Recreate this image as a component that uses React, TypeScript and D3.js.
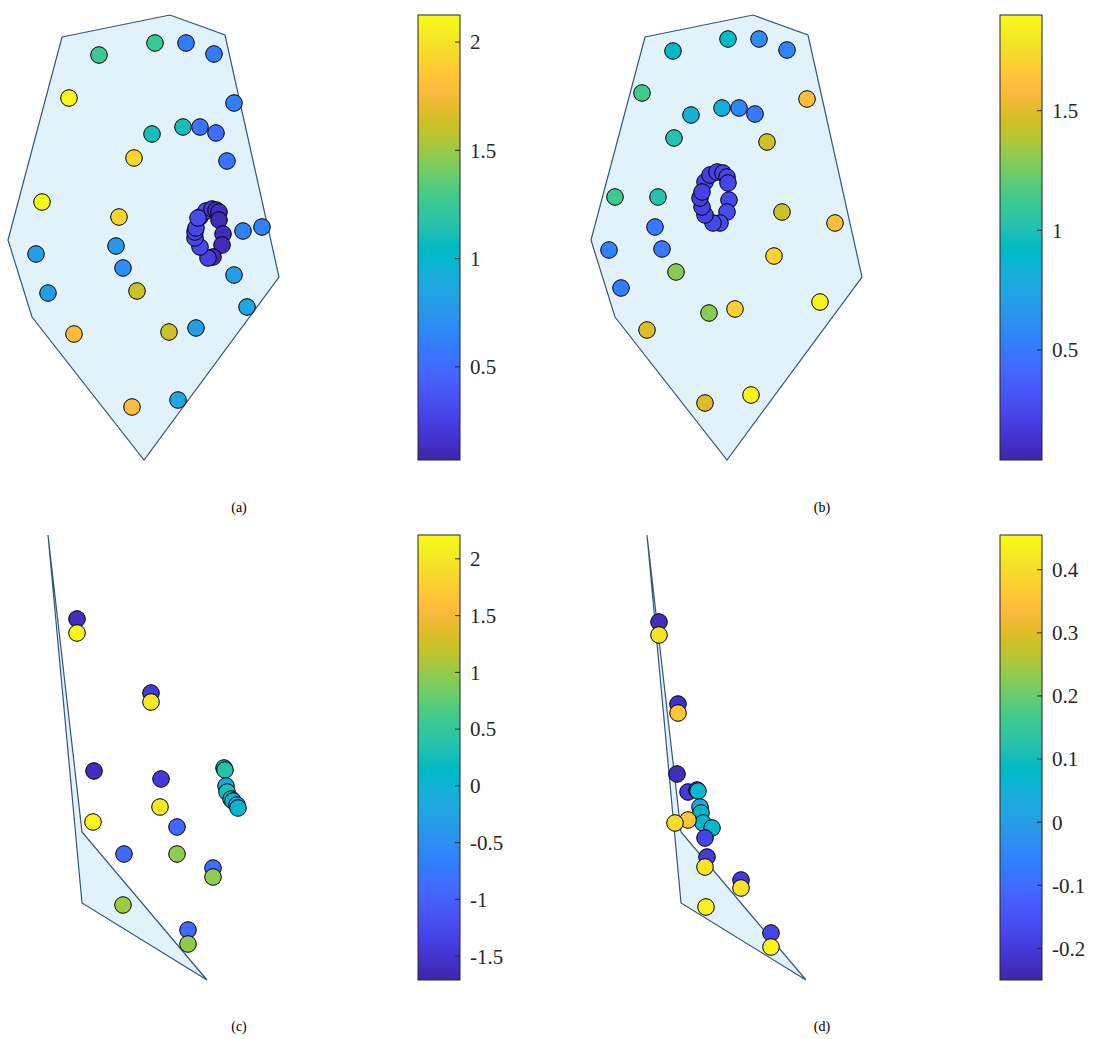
import React from "react";
import * as d3 from "d3";

// ---------- colormap (MATLAB parula, 64 entries) ----------
const PARULA: number[][] = [
  [0.2422,0.1504,0.6603],[0.2504,0.1650,0.7076],[0.2578,0.1818,0.7511],[0.2647,0.1978,0.7952],
  [0.2706,0.2147,0.8364],[0.2751,0.2342,0.8710],[0.2783,0.2559,0.8991],[0.2803,0.2782,0.9221],
  [0.2813,0.3006,0.9414],[0.2810,0.3228,0.9579],[0.2795,0.3447,0.9717],[0.2760,0.3667,0.9829],
  [0.2699,0.3892,0.9906],[0.2602,0.4123,0.9952],[0.2440,0.4358,0.9988],[0.2206,0.4603,0.9973],
  [0.1963,0.4847,0.9892],[0.1834,0.5074,0.9798],[0.1786,0.5289,0.9682],[0.1764,0.5499,0.9520],
  [0.1687,0.5703,0.9359],[0.1540,0.5902,0.9218],[0.1460,0.6091,0.9079],[0.1380,0.6276,0.8973],
  [0.1248,0.6459,0.8883],[0.1113,0.6635,0.8763],[0.0952,0.6798,0.8598],[0.0689,0.6948,0.8394],
  [0.0297,0.7082,0.8163],[0.0036,0.7203,0.7917],[0.0067,0.7312,0.7660],[0.0433,0.7411,0.7394],
  [0.0964,0.7500,0.7120],[0.1408,0.7584,0.6842],[0.1717,0.7670,0.6554],[0.1938,0.7758,0.6251],
  [0.2161,0.7843,0.5923],[0.2470,0.7918,0.5567],[0.2906,0.7973,0.5188],[0.3406,0.8008,0.4789],
  [0.3909,0.8029,0.4354],[0.4456,0.8024,0.3909],[0.5044,0.7993,0.3480],[0.5616,0.7942,0.3045],
  [0.6174,0.7876,0.2612],[0.6720,0.7793,0.2227],[0.7242,0.7698,0.1910],[0.7738,0.7598,0.1646],
  [0.8203,0.7498,0.1535],[0.8634,0.7406,0.1596],[0.9035,0.7330,0.1774],[0.9393,0.7288,0.2100],
  [0.9728,0.7298,0.2394],[0.9956,0.7434,0.2371],[0.9970,0.7659,0.2199],[0.9952,0.7893,0.2028],
  [0.9892,0.8136,0.1885],[0.9786,0.8386,0.1766],[0.9676,0.8639,0.1643],[0.9610,0.8890,0.1537],
  [0.9597,0.9135,0.1423],[0.9628,0.9373,0.1265],[0.9691,0.9606,0.1064],[0.9769,0.9839,0.0805],
];
const toRgb = (c: number[]) => d3.rgb(c[0] * 255, c[1] * 255, c[2] * 255).formatHex();
const PARULA_HEX = PARULA.map(toRgb);
const parula = d3.scaleLinear<string>()
  .domain(d3.range(64).map((i) => i / 63))
  .range(PARULA_HEX)
  .interpolate(d3.interpolateRgb)
  .clamp(true);

// ---------- data (panel-local coordinates) ----------
// hull outlines
const hullAB: [number, number][] = [[62,37],[170,15],[225,35],[279,277],[144,460],[32,317],[8,240]];
const hullCD: [number, number][] = [[48,15],[82,312],[207,460],[82,383]];

// panel (a)
const aX = [99,155,186,214,69,234,152,183,200,216,134,227,42,119,243,262,36,116,123,48,137,234,247,74,169,196,132,178,
  200,206,212,216,219,219,223,222,213,208,200,195,195,196,198];
const aY = [55,43,43,54,98,103,134,127,127,133,158,161,202,217,231,227,254,246,268,293,291,275,307,334,332,328,407,400,
  217,211,209,210,212,220,234,245,257,258,247,238,232,228,218];
const aC = [1.26,1.26,0.6,0.6,2.1,0.62,1.1,1.1,0.55,0.5,1.93,0.55,2.1,1.93,0.63,0.63,0.82,0.75,0.7,0.8,1.62,0.8,0.85,1.78,1.62,0.8,1.78,0.85,
  0.3,0.3,0.2,0.15,0.14,0.12,0.12,0.12,0.12,0.25,0.3,0.3,0.28,0.3,0.32];
const aTicks = [0.5, 1, 1.5, 2];
const aDomain: [number, number] = [0.07, 2.125];

// panel (b)
const bX = [90,145,176,204,59,224,108,139,156,172,91,184,32,75,199,252,72,26,79,191,93,38,126,152,237,64,122,168,
  122,127,134,140,144,145,146,144,137,130,122,119,117,119];
const bY = [51,39,39,50,93,99,115,108,108,114,138,142,197,197,212,223,227,250,249,256,272,288,313,309,302,330,403,395,
  182,175,172,173,177,183,200,212,223,223,215,207,198,192];
const bC = [0.91,0.92,0.6,0.56,1.14,1.6,0.82,0.82,0.56,0.5,1.02,1.45,1.12,1.02,1.45,1.6,0.5,0.55,0.5,1.7,1.3,0.52,1.3,1.7,1.86,1.48,1.48,1.86,
  0.22,0.2,0.2,0.22,0.22,0.24,0.25,0.26,0.26,0.25,0.22,0.2,0.2,0.22];
const bTicks = [0.5, 1, 1.5];
const bDomain: [number, number] = [0.04, 1.9];

// panel (c)
const cX = [77,77,151,151,94,161,93,160,177,124,177,213,213,123,188,188,224,225,226,227,231,233,237,238];
const cY = [99,113,173,182,251,259,302,287,307,334,334,348,357,385,410,424,248,250,266,272,279,281,285,288];
const cC = [-1.6,2.15,-1.45,2.02,-1.6,-1.45,2.15,2.02,-0.93,-0.9,0.96,-0.88,0.96,1.03,-0.9,0.96,0.2,0.35,-0.15,0.3,0.15,0.05,-0.3,0.05];
const cTicks = [-1.5, -1, -0.5, 0, 0.5, 1, 1.5, 2];
const cDomain: [number, number] = [-1.71, 2.21];

// panel (d)
const dX = [60,60,79,79,78,89,98,99,101,102,104,89,76,113,106,108,106,142,142,107,172,172];
const dY = [102,115,184,193,254,272,270,271,287,293,303,300,303,308,318,337,347,360,368,387,413,427];
const dC = [-0.23,0.41,-0.22,0.36,-0.23,-0.2,-0.15,0.07,0.03,0.07,0.07,0.36,0.4,0.07,-0.18,-0.2,0.41,-0.2,0.41,0.44,-0.18,0.44];
const dTicks = [-0.2, -0.1, 0, 0.1, 0.2, 0.3, 0.4];
const dDomain: [number, number] = [-0.25, 0.455];

const captions = ["(a)", "(b)", "(c)", "(d)"];

// ---------- layout ----------
const W = 1098, H = 1039;
const FONT = "'Times New Roman', 'Liberation Serif', Times, serif";
const PANELS = [
  { ox: 0, oy: 0, hull: hullAB, xs: aX, ys: aY, cs: aC, ticks: aTicks, domain: aDomain, cbx: 418, capx: 239, capy: 512 },
  { ox: 583, oy: 0, hull: hullAB, xs: bX, ys: bY, cs: bC, ticks: bTicks, domain: bDomain, cbx: 1000, capx: 822, capy: 512 },
  { ox: 0, oy: 520, hull: hullCD, xs: cX, ys: cY, cs: cC, ticks: cTicks, domain: cDomain, cbx: 418, capx: 239, capy: 1031 },
  { ox: 599, oy: 520, hull: hullCD, xs: dX, ys: dY, cs: dC, ticks: dTicks, domain: dDomain, cbx: 1000, capx: 822, capy: 1031 },
];
const CB_W = 42;
const CB_TOP = 15, CB_BOT = 460;

const fmt = (v: number) => String(Math.round(v * 100) / 100);

function Panel({ p, i }: { p: typeof PANELS[number]; i: number }) {
  const x = d3.scaleLinear().domain([0, 300]).range([p.ox, p.ox + 300]);
  const y = d3.scaleLinear().domain([0, 470]).range([p.oy, p.oy + 470]);
  const line = d3.line<[number, number]>().x((d) => x(d[0])).y((d) => y(d[1])).curve(d3.curveLinearClosed);
  const t = d3.scaleLinear().domain(p.domain).range([0, 1]);
  const cb = d3.scaleLinear().domain(p.domain).range([p.oy + CB_BOT, p.oy + CB_TOP]);
  const gid = `grad${i}`;
  return (
    <g>
      <path d={line(p.hull) || ""} fill="#e1f2fb" stroke="#34557a" strokeWidth={1.2} strokeLinejoin="miter" />
      {p.xs.map((xv, k) => (
        <circle key={k} cx={x(xv)} cy={y(p.ys[k])} r={8.3} fill={parula(t(p.cs[k]))} stroke="#000" strokeWidth={1} />
      ))}
      <defs>
        <linearGradient id={gid} x1="0" y1="1" x2="0" y2="0">
          {PARULA_HEX.map((c, k) => (
            <stop key={k} offset={k / 63} stopColor={c} />
          ))}
        </linearGradient>
      </defs>
      <rect x={p.cbx} y={p.oy + CB_TOP} width={CB_W} height={CB_BOT - CB_TOP} fill={`url(#${gid})`} stroke="#262626" strokeWidth={1} />
      {p.ticks.map((tv) => (
        <g key={tv}>
          <line x1={p.cbx + CB_W - 5} x2={p.cbx + CB_W} y1={cb(tv)} y2={cb(tv)} stroke="#262626" strokeWidth={1} />
          <text x={p.cbx + CB_W + 10} y={cb(tv)} dy="0.35em" fontFamily={FONT} fontSize={21} fill="#262626">
            {fmt(tv)}
          </text>
        </g>
      ))}
      <text x={p.capx} y={p.capy} textAnchor="middle" fontFamily={FONT} fontSize={14} fill="#000">
        {captions[i]}
      </text>
    </g>
  );
}

export default function App() {
  return (
    <svg width={W} height={H} style={{ position: "absolute", left: 0, top: 0, background: "#fff" }}>
      <rect x={0} y={0} width={W} height={H} fill="#fff" />
      {PANELS.map((p, i) => (
        <Panel key={i} p={p} i={i} />
      ))}
    </svg>
  );
}
